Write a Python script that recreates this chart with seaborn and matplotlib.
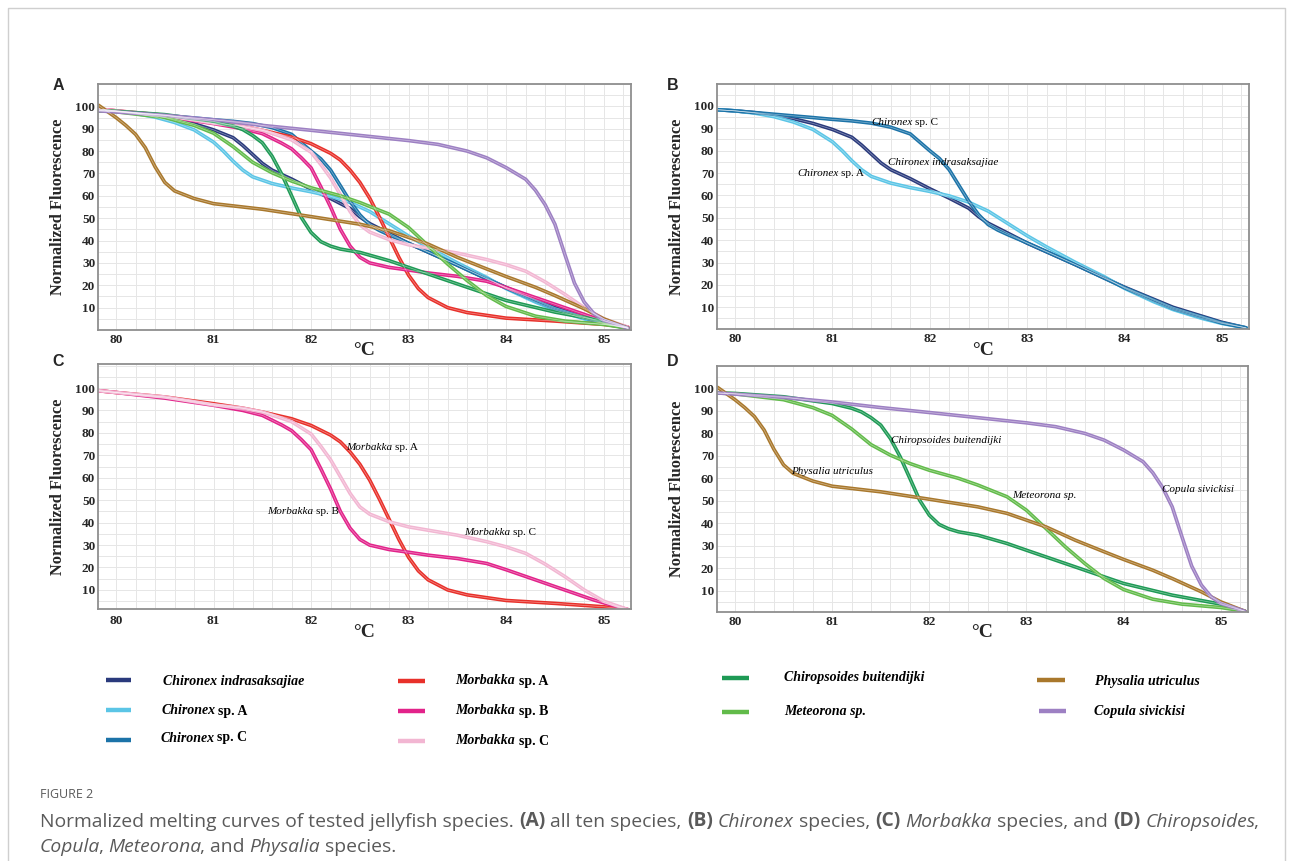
import numpy as np
import pandas as pd
import matplotlib
matplotlib.use("Agg")
import matplotlib.pyplot as plt
import seaborn as sns
from matplotlib.ticker import MultipleLocator

# ---------------- data ----------------
species = ["Chironex indrasaksajiae", "Chironex sp. A", "Chironex sp. C",
           "Morbakka sp. A", "Morbakka sp. B", "Morbakka sp. C",
           "Chiropsoides buitendijki", "Meteorona sp.",
           "Physalia utriculus", "Copula sivickisi"]

ci_t = [79.82, 80.0, 80.2, 80.4, 80.6, 80.8, 81.0, 81.2, 81.3, 81.4, 81.5, 81.6, 81.8, 82.0, 82.2, 82.4, 82.5, 82.6, 82.8, 83.0, 83.5, 84.0, 84.5, 85.0, 85.25]
ci_f = [98.3, 97.8, 97.0, 95.8, 94.3, 92.2, 89.5, 86.0, 82.5, 78.5, 74.5, 71.5, 67.5, 63.0, 58.8, 54.3, 50.6, 47.6, 43.2, 38.7, 29.0, 19.0, 10.0, 3.3, 0.8]

ca_t = [79.82, 80.0, 80.2, 80.4, 80.6, 80.8, 81.0, 81.1, 81.2, 81.3, 81.4, 81.6, 81.8, 82.0, 82.2, 82.4, 82.6, 82.8, 83.0, 83.2, 83.5, 83.8, 84.0, 84.3, 84.5, 84.8, 85.0, 85.25]
ca_f = [98.3, 97.8, 96.8, 95.2, 92.8, 89.5, 84.0, 80.0, 75.5, 71.5, 68.5, 65.5, 63.5, 61.8, 59.8, 57.0, 53.0, 47.5, 42.0, 37.0, 30.0, 23.5, 18.5, 12.5, 9.0, 5.0, 2.8, 0.8]

cc_t = [79.82, 80.0, 80.4, 80.8, 81.0, 81.2, 81.4, 81.6, 81.8, 82.0, 82.1, 82.2, 82.3, 82.4, 82.5, 82.6, 82.7, 82.8, 83.0, 83.5, 84.0, 84.5, 85.0, 85.25]
cc_f = [98.3, 97.8, 96.3, 94.8, 94.0, 93.3, 92.3, 90.5, 87.5, 80.0, 76.5, 71.5, 64.5, 57.5, 51.5, 47.0, 44.5, 42.5, 38.8, 29.0, 18.8, 9.5, 3.0, 0.8]

ma_t = [79.82, 80.0, 80.5, 81.0, 81.3, 81.5, 81.8, 82.0, 82.2, 82.3, 82.4, 82.5, 82.6, 82.7, 82.8, 82.9, 83.0, 83.1, 83.2, 83.4, 83.6, 84.0, 84.5, 85.0, 85.25]
ma_f = [98.8, 98.0, 96.0, 93.0, 91.0, 89.3, 86.3, 83.3, 79.0, 76.0, 71.5, 66.0, 59.0, 50.5, 41.5, 32.5, 24.5, 18.5, 14.5, 10.0, 7.8, 5.3, 4.0, 2.5, 1.2]

mb_t = [79.82, 80.0, 80.5, 81.0, 81.3, 81.5, 81.7, 81.8, 81.9, 82.0, 82.1, 82.2, 82.3, 82.4, 82.5, 82.6, 82.8, 83.0, 83.2, 83.5, 83.8, 84.0, 84.3, 84.6, 84.9, 85.25]
mb_f = [98.8, 98.0, 95.5, 92.3, 90.0, 87.8, 83.5, 81.0, 77.0, 72.5, 64.0, 55.0, 45.0, 37.5, 32.5, 30.0, 28.0, 26.8, 25.5, 24.0, 21.8, 19.0, 14.5, 10.0, 5.5, 1.2]

mc_t = [79.82, 80.0, 80.5, 81.0, 81.3, 81.5, 81.7, 81.8, 82.0, 82.1, 82.2, 82.3, 82.4, 82.5, 82.6, 82.8, 83.0, 83.5, 83.8, 84.0, 84.2, 84.4, 84.6, 84.8, 85.0, 85.25]
mc_f = [98.8, 98.0, 96.0, 92.5, 91.0, 89.3, 86.5, 85.0, 79.5, 74.0, 68.0, 60.5, 53.0, 47.0, 43.8, 40.4, 38.1, 34.4, 31.5, 29.2, 26.3, 21.5, 16.0, 10.0, 5.0, 1.2]

cb_t = [79.82, 80.0, 80.5, 81.0, 81.2, 81.3, 81.4, 81.5, 81.6, 81.7, 81.8, 81.9, 82.0, 82.1, 82.2, 82.3, 82.5, 82.8, 83.0, 83.5, 84.0, 84.5, 85.0, 85.25]
cb_f = [98.0, 97.8, 96.3, 93.3, 91.2, 89.6, 87.0, 83.7, 77.7, 69.6, 60.0, 50.3, 43.6, 39.5, 37.5, 36.2, 34.7, 31.0, 28.0, 20.6, 13.2, 8.0, 4.0, 0.8]

me_t = [79.82, 80.0, 80.5, 80.8, 81.0, 81.2, 81.4, 81.6, 81.8, 82.0, 82.3, 82.5, 82.8, 83.0, 83.2, 83.4, 83.6, 83.8, 84.0, 84.3, 84.6, 85.0, 85.25]
me_f = [98.0, 97.6, 95.0, 91.5, 88.0, 82.0, 75.0, 70.3, 66.6, 63.6, 60.0, 57.0, 51.8, 45.8, 37.7, 29.5, 22.1, 15.4, 10.5, 6.2, 4.0, 2.5, 0.8]

ph_t = [79.82, 80.0, 80.1, 80.2, 80.3, 80.4, 80.5, 80.6, 80.8, 81.0, 81.5, 82.0, 82.5, 82.8, 83.0, 83.2, 83.5, 83.8, 84.0, 84.3, 84.5, 84.8, 85.0, 85.25]
ph_f = [100.5, 95.0, 91.5, 87.5, 81.5, 73.0, 66.0, 62.2, 58.8, 56.5, 54.0, 50.7, 47.3, 44.4, 41.4, 38.4, 32.5, 27.3, 23.9, 19.1, 15.4, 9.5, 5.0, 0.8]

co_t = [79.82, 80.0, 80.5, 81.0, 81.5, 82.0, 82.5, 83.0, 83.3, 83.6, 83.8, 84.0, 84.2, 84.3, 84.4, 84.5, 84.6, 84.7, 84.8, 84.9, 85.0, 85.25]
co_f = [98.0, 97.5, 96.0, 94.0, 91.5, 89.3, 87.0, 84.7, 83.0, 80.0, 77.0, 72.6, 67.4, 62.5, 56.0, 47.3, 34.0, 21.0, 12.5, 7.3, 4.3, 0.8]

temps = [ci_t, ca_t, cc_t, ma_t, mb_t, mc_t, cb_t, me_t, ph_t, co_t]
fluors = [ci_f, ca_f, cc_f, ma_f, mb_f, mc_f, cb_f, me_f, ph_f, co_f]

colors = ["#2a3a7c", "#5bc5e6", "#1c73a8", "#e8302a", "#e2238a", "#f2b6d2",
          "#1e9a55", "#62bb4a", "#a9782c", "#9d80c3"]

panel_species = {
    "A": species,
    "B": species[0:3],
    "C": species[3:6],
    "D": species[6:10],
}

x_ticks = [80, 81, 82, 83, 84, 85]
y_ticks = [10, 20, 30, 40, 50, 60, 70, 80, 90, 100]

rows = []
for sp, ts, fs in zip(species, temps, fluors):
    for t, f in zip(ts, fs):
        rows.append((sp, t, f))
df = pd.DataFrame(rows, columns=["species", "temp", "fluor"])
palette = dict(zip(species, colors))
white_pal = {s: "white" for s in species}

# ---------------- figure ----------------
sns.set_style("white")
plt.rcParams["font.family"] = ["Liberation Serif", "DejaVu Serif"]
plt.rcParams["lines.solid_joinstyle"] = "round"

W, H = 1293, 861
fig = plt.figure(figsize=(W / 100, H / 100), dpi=100)

over = fig.add_axes([0, 0, 1, 1], zorder=-1)
over.set_xlim(0, W)
over.set_ylim(H, 0)
over.axis("off")

def px_rect(l, t, r, b):
    return [l / W, 1 - b / H, (r - l) / W, (b - t) / H]

panels = {
    "A": dict(rect=px_rect(98, 84, 631, 330), ylim=(0.0, 110.0), pad=2.6, xl=-0.05),
    "B": dict(rect=px_rect(717, 84, 1249, 329), ylim=(0.3, 109.8), pad=2.6, xl=-0.053),
    "C": dict(rect=px_rect(98, 364, 631, 609), ylim=(1.5, 110.7), pad=4.6, xl=-0.062),
    "D": dict(rect=px_rect(717, 366, 1248, 612), ylim=(0.5, 110.0), pad=3.0, xl=-0.05),
}
letter_pos = {"A": (58, 85), "B": (673, 85), "C": (58, 362), "D": (673, 362)}

def rich(target, x, y, parts, size, transform, family="Liberation Serif",
         color="black", va="center"):
    txt, st, wt, _ = parts[0]
    prev = target.text(x, y, txt, transform=transform, fontsize=size,
                       fontstyle=st, fontweight=wt, family=family, color=color,
                       ha="left", va=va)
    for txt, st, wt, gap in parts[1:]:
        prev = target.annotate(txt, xy=(1, 0), xycoords=prev,
                               xytext=(gap, 0), textcoords="offset points",
                               fontsize=size, fontstyle=st, fontweight=wt,
                               family=family, color=color, ha="left",
                               va="bottom", annotation_clip=False)
    return prev

axes = {}
for key, cfg in panels.items():
    ax = fig.add_axes(cfg["rect"])
    axes[key] = ax
    sub = df[df["species"].isin(panel_species[key])]
    sns.lineplot(data=sub, x="temp", y="fluor", hue="species",
                 hue_order=panel_species[key], palette=palette,
                 estimator=None, sort=False, legend=False, linewidth=2.6,
                 ax=ax)
    # thin pale core suggesting the replicate bundle
    sns.lineplot(data=sub, x="temp", y="fluor", hue="species",
                 hue_order=panel_species[key], palette=white_pal,
                 estimator=None, sort=False, legend=False, linewidth=0.5,
                 alpha=0.45, ax=ax)
    ax.set_xlim(79.815, 85.28)
    ax.set_ylim(*cfg["ylim"])
    ax.set_xticks(x_ticks)
    ax.set_yticks(y_ticks)
    ax.xaxis.set_minor_locator(MultipleLocator(0.2))
    ax.yaxis.set_minor_locator(MultipleLocator(5))
    ax.grid(which="both", color="#e6e6e6", linewidth=0.7)
    ax.set_axisbelow(True)
    ax.tick_params(which="major", direction="in", length=3, color="#999999",
                   labelsize=9.5)
    ax.tick_params(which="minor", direction="in", length=2, color="#bbbbbb")
    ax.tick_params(axis="x", pad=cfg["pad"])
    ax.tick_params(axis="y", pad=2)
    for lab in ax.get_xticklabels() + ax.get_yticklabels():
        lab.set_fontweight("bold")
    for s in ax.spines.values():
        s.set_color("#8f8f8f")
        s.set_linewidth(1.3)
    ax.set_ylabel("Normalized Fluorescence", fontsize=11.8, fontweight="bold")
    ax.yaxis.set_label_coords(-0.06, 0.5)
    ax.set_xlabel("°C", fontsize=14, fontweight="bold", va="top")
    ax.xaxis.set_label_coords(0.5, cfg["xl"])
    lx, ly = letter_pos[key]
    over.text(lx, ly, key, fontsize=11.5, fontweight="bold",
              family="Liberation Sans", ha="center", va="center")

# panel annotations
IT, NO, BO, RE = "italic", "normal", "bold", "normal"
ann = {
    "B": [(81.40, 92.7, [("Chironex", IT, RE, 0), ("sp. C", NO, RE, 1.5)]),
          (81.57, 74.7, [("Chironex indrasaksajiae", IT, RE, 0)]),
          (80.64, 69.6, [("Chironex", IT, RE, 0), ("sp. A", NO, RE, 1.5)])],
    "C": [(82.36, 73.7, [("Morbakka", IT, RE, 0), ("sp. A", NO, RE, 2.2)]),
          (81.55, 45.1, [("Morbakka", IT, RE, 0), ("sp. B", NO, RE, 2.2)]),
          (83.57, 35.5, [("Morbakka", IT, RE, 0), ("sp. C", NO, RE, 2.2)])],
    "D": [(81.61, 76.7, [("Chiropsoides buitendijki", IT, RE, 0)]),
          (80.58, 63.2, [("Physalia utriculus", IT, RE, 0)]),
          (82.85, 52.2, [("Meteorona sp.", IT, RE, 0)]),
          (84.40, 55.0, [("Copula sivickisi", IT, RE, 0)])],
}
for key, items in ann.items():
    ax = axes[key]
    for x, y, parts in items:
        rich(ax, x, y, parts, 8, ax.transData)

# legend (pixel coordinates of the figure)
legend_rows = [
    (106, 131, 680, 163, 681, 0, [("Chironex indrasaksajiae", IT, BO, 0)]),
    (106, 131, 710, 162, 711, 1, [("Chironex", IT, BO, 0), ("sp. A", NO, BO, 1.6)]),
    (106, 131, 740, 161, 738, 2, [("Chironex", IT, BO, 0), ("sp. C", NO, BO, 1.6)]),
    (398, 425, 681, 455, 681, 3, [("Morbakka", IT, BO, 0), ("sp. A", NO, BO, 2.8)]),
    (398, 425, 711, 455, 711, 4, [("Morbakka", IT, BO, 0), ("sp. B", NO, BO, 2.8)]),
    (398, 425, 741, 455, 741, 5, [("Morbakka", IT, BO, 0), ("sp. C", NO, BO, 2.8)]),
    (722, 749, 678, 784, 678, 6, [("Chiropsoides buitendijki", IT, BO, 0)]),
    (722, 749, 712, 784, 712, 7, [("Meteorona sp.", IT, BO, 0)]),
    (1037, 1065, 680, 1095, 682, 8, [("Physalia utriculus", IT, BO, 0)]),
    (1039, 1066, 711, 1094, 711, 9, [("Copula sivickisi", IT, BO, 0)]),
]
for x0, x1, yl, xt, yt, idx, parts in legend_rows:
    over.plot([x0, x1], [yl, yl], color=colors[idx], linewidth=3.2,
              solid_capstyle="butt")
    rich(over, xt, yt, parts, 10, over.transData)

# outer frame
over.plot([8, 8, 1285, 1285], [H, 8, 8, H], color="#cfcfcf", linewidth=1.0)

# caption
cap_col = "#5a5a5a"
cf = ["Open Sans", "DejaVu Sans"]
over.text(40, 795, "FIGURE 2", fontsize=9, color=cap_col, family=cf,
          ha="left", va="center")
g = 3.7
line1 = [("Normalized melting curves of tested jellyfish species.", NO, NO, 0),
         ("(A)", NO, BO, g), ("all ten species,", NO, NO, g),
         ("(B)", NO, BO, g), ("Chironex", IT, NO, g), ("species,", NO, NO, g),
         ("(C)", NO, BO, g), ("Morbakka", IT, NO, g), ("species, and", NO, NO, g),
         ("(D)", NO, BO, g), ("Chiropsoides", IT, NO, g), (",", NO, NO, -1.5)]
line2 = [("Copula", IT, NO, 0), (",", NO, NO, -1.5), ("Meteorona", IT, NO, g),
         (", and", NO, NO, -1.0), ("Physalia", IT, NO, g), ("species.", NO, NO, g)]
rich(over, 40, 822, line1, 13.85, over.transData, family=cf, color=cap_col)
rich(over, 40, 847, line2, 13.85, over.transData, family=cf, color=cap_col)

fig.savefig("out.png", dpi=100)
